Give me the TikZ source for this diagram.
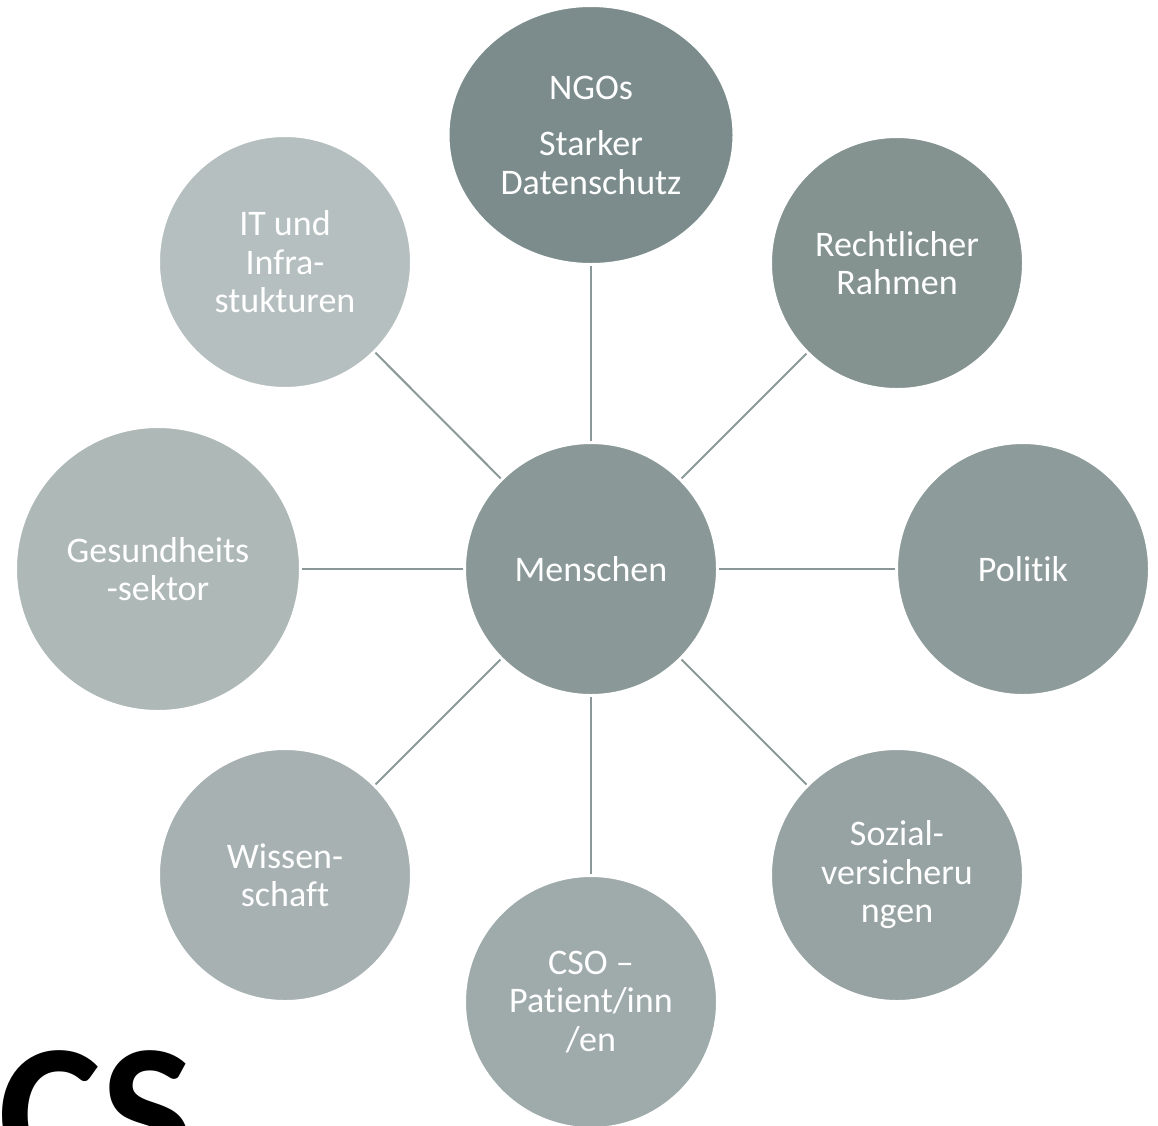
\documentclass[tikz,border=0pt]{standalone}
\usepackage{fontspec}
\setmainfont[Ligatures=NoCommon]{Carlito}
\usetikzlibrary{shapes.geometric}
\definecolor{midgrey}{HTML}{8A9997}
\definecolor{linegrey}{HTML}{8A9997}
\definecolor{ngogrey}{HTML}{7C8C8C}
\definecolor{rechtgrey}{HTML}{849290}
\definecolor{polgrey}{HTML}{8D9B9A}
\definecolor{sozgrey}{HTML}{96A3A2}
\definecolor{csogrey}{HTML}{9FAAAA}
\definecolor{wissgrey}{HTML}{A7B1B1}
\definecolor{gesgrey}{HTML}{AEB8B7}
\definecolor{itgrey}{HTML}{B6BFBF}
\begin{document}
\begin{tikzpicture}[x=1pt, y=-1pt,
    hub/.style={circle, fill=#1, draw=white, line width=3pt, minimum size=253pt, inner sep=0pt,
        text=white, align=center, font=\fontsize{36}{38.5}\selectfont},
    spoke/.style={draw=linegrey, line width=2pt}]
    \useasboundingbox (0,0) rectangle (1158,1125);
    \clip (0,0) rectangle (1158,1125);
    \node[hub=midgrey] (menschen) at (591, 569) {Menschen};
    \node[hub=ngogrey, ellipse, minimum width=286pt, minimum height=259pt] (ngo) at (591, 135) {NGOs\\[18pt]Starker\\Datenschutz};
    \node[hub=rechtgrey] (recht) at (897, 263) {Rechtlicher\\Rahmen};
    \node[hub=polgrey] (politik) at (1023, 569) {Politik};
    \node[hub=sozgrey] (sozial) at (897, 875) {Sozial-\\versicheru\\ngen};
    \node[hub=csogrey] (cso) at (591, 1002) {CSO --\\Patient/inn\\/en};
    \node[hub=wissgrey] (wiss) at (285, 875) {Wissen-\\schaft};
    \node[hub=gesgrey, minimum size=285pt] (ges) at (158, 569) {Gesundheits\\-sektor};
    \node[hub=itgrey] (it) at (285, 262) {IT und\\Infra-\\stukturen};
    \draw[spoke] (menschen) -- (ngo);
    \draw[spoke] (menschen) -- (recht);
    \draw[spoke] (menschen) -- (politik);
    \draw[spoke] (menschen) -- (sozial);
    \draw[spoke] (menschen) -- (cso);
    \draw[spoke] (menschen) -- (wiss);
    \draw[spoke] (menschen) -- (ges);
    \draw[spoke] (menschen) -- (it);
    \node[anchor=base west, inner sep=0pt, font=\fontsize{195}{195}\selectfont\bfseries] (title) at (-2, 1178) {CS};
\end{tikzpicture}
\end{document}
